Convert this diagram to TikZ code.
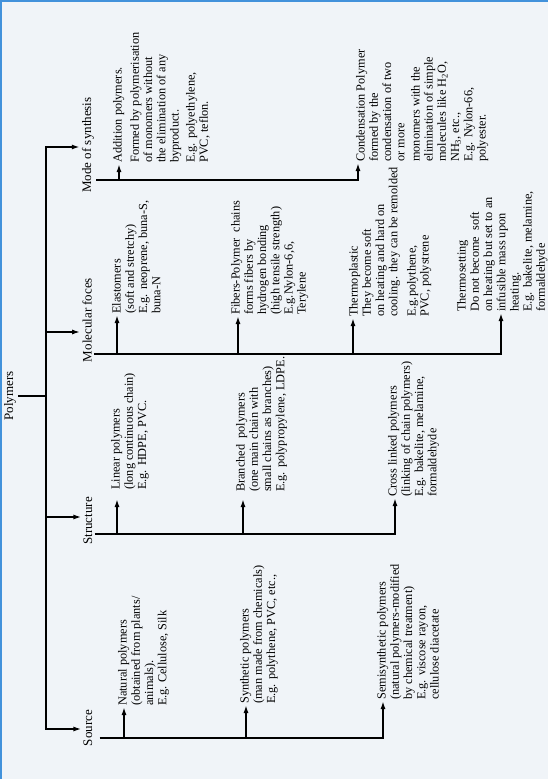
\documentclass[tikz,border=0pt]{standalone}
\usepackage{fontspec}
\setmainfont{Liberation Serif}
\usetikzlibrary{arrows.meta}
\definecolor{pagebg}{RGB}{240,244,248}
\definecolor{frameblue}{RGB}{66,146,219}
\tikzstyle{head} = [rotate=90,inner sep=2pt,font=\fontsize{13}{15}\selectfont]
\tikzstyle{info} = [rotate=90,anchor=north west,align=left,inner sep=1pt,font=\fontsize{12.3}{13.2}\selectfont]
\tikzstyle{bus} = [-,line width=1.8pt]
\tikzstyle{arr} = [-{Latex[length=8pt,width=5pt]},line width=1.8pt]

\begin{document}
\begin{tikzpicture}[x=1pt,y=1pt]
  \useasboundingbox[fill=pagebg] (0,0) rectangle (548,-779);
  \draw[frameblue,line width=2pt] (1,-779) -- (1,-1) -- (548,-1);

  % root and trunk
  \node[head] (poly) at (10,-396) {Polymers};
  \coordinate (top) at (46,-147);
  \coordinate (jmol) at (46,-332);
  \coordinate (jstr) at (46,-517);
  \coordinate (bot) at (46,-729);
  \node[head] (mode) at (88,-145) {Mode of synthesis};
  \node[head] (mol) at (87,-320) {Molecular foces};
  \node[head] (str) at (88,-521) {Structure};
  \node[head] (src) at (88,-728) {Source};
  \draw[bus] (poly.south) -- (poly.south -| top);
  \draw[arr] (poly.south -| top) -- (top) -- (top -| mode.north);
  \draw[arr] (poly.south -| top) -- (bot) -- (bot -| src.north);
  \draw[arr] (jmol) -- (jmol -| mol.north);
  \draw[arr] (jstr) -- (jstr -| str.north);

  % mode of synthesis
  \node[info] (add) at (112,-164) {Addition polymers.\\[4pt]
    Formed by polymerisation\\ of monomers without\\ the elimination of any\\ byproduct.\\[3pt]
    E.g. polyethylene,\\ PVC, teflon.};
  \node[info] (cond) at (355,-163) {Condensation Polymer\\ formed by the\\ condensation of two\\ or more\\[2pt]
    monomers with the\\ elimination of simple\\ molecules like H\textsubscript{2}O,\\ NH\textsubscript{3}, etc.,\\
    E.g. Nylon-66,\\ polyester.};
  \coordinate (b-add) at (119,-180);
  \coordinate (b-cond) at (358,-180);
  \draw[arr] (b-add) -- (b-add |- add.west);
  \draw[arr] (mode.south |- b-add) -- (b-cond) -- (b-cond |- cond.west);

  % molecular forces
  \node[info] (elast) at (111,-315) {Elastomers\\ (soft and stretchy)\\ E.g. neoprene, buna-S,\\ buna-N};
  \node[info] (fib) at (230,-316) {Fibers-Polymer~~chains\\ forms fibers by\\ hydrogen bonding\\ (high tensile strength)\\
    E.g.Nylon-6,6,\\ Terylene};
  \node[info] (tplast) at (348,-318) {Thermoplastic\\ They become soft\\ on heating and hard on\\ cooling. they can be remolded\\[5pt]
    E.g.polythene,\\ PVC, polystrene};
  \node[info] (tset) at (456,-313) {Thermosetting\\ Do not become~~soft\\ on heating but set to an\\ infusible mass upon\\ heating.\\
    E.g. bakelite, melamine,\\ formaldehyde};
  \coordinate (b-elast) at (117,-354);
  \coordinate (b-fib) at (238,-354);
  \coordinate (b-tplast) at (353,-354);
  \coordinate (b-tset) at (501,-354);
  \draw[arr] (b-elast) -- (b-elast |- elast.west);
  \draw[arr] (b-fib) -- (b-fib |- fib.west);
  \draw[arr] (b-tplast) -- (b-tplast |- tplast.west);
  \draw[arr] (mol.south |- b-elast) -- (b-tset) -- (b-tset |- tset.west);

  % structure
  \node[info] (lin) at (110,-491) {Linear polymers\\ (long continuous chain)\\ E.g. HDPE, PVC.};
  \node[info] (bran) at (235,-493) {Branched~~polymers\\ (one main chain with\\ small chains as branches)\\ E.g. polypropylene, LDPE.};
  \node[info] (cross) at (387,-498) {Cross linked polymers\\ (linking of chain polymers)\\ E.g. bakelite, melamine,\\ formaldehyde};
  \coordinate (b-lin) at (117,-534);
  \coordinate (b-bran) at (243,-534);
  \coordinate (b-cross) at (395,-534);
  \draw[arr] (b-lin) -- ([yshift=-8pt]b-lin |- lin.west);
  \draw[arr] (b-bran) -- ([yshift=-6pt]b-bran |- bran.west);
  \draw[arr] (str.south |- b-lin) -- (b-cross) -- (b-cross |- cross.west);

  % source
  \node[info] (nat) at (117,-707) {Natural polymers\\ (obtained from plants/\\ animals).\\ E.g.~Cellulose,~Silk};
  \node[info] (syn) at (239,-705) {Synthetic polymers\\ (man made from chemicals)\\ E.g. polythene, PVC, etc.,};
  \node[info] (semi) at (376,-701) {Semisynthetic polymers\\ (natural polymers-modified\\ by chemical treatment)\\
    E.g. viscose rayon,\\ cellulose diacetate};
  \coordinate (b-nat) at (124,-738);
  \coordinate (b-syn) at (246,-738);
  \coordinate (b-semi) at (383,-738);
  \draw[arr] (b-nat) -- (b-nat |- nat.west);
  \draw[arr] (b-syn) -- (b-syn |- syn.west);
  \draw[arr] ([xshift=5pt]src.south |- b-nat) -- (b-semi) -- (b-semi |- semi.west);
\end{tikzpicture}
\end{document}
